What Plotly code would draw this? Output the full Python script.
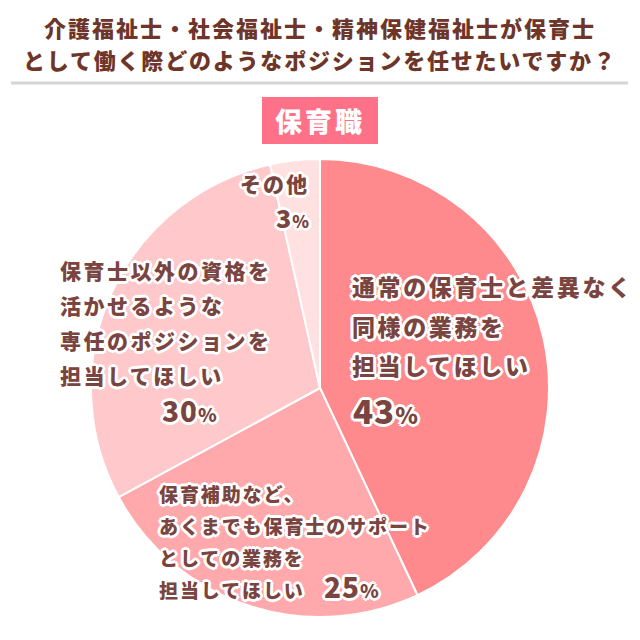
import plotly.graph_objects as go

W = H = 640

# --- data ---
title_lines = [
    "介護福祉士・社会福祉士・精神保健福祉士が保育士",
    "として働く際どのようなポジションを任せたいですか？",
]
badge_text = "保育職"

categories = [
    "通常の保育士と差異なく同様の業務を担当してほしい",
    "保育補助など、あくまでも保育士のサポートとしての業務を担当してほしい",
    "保育士以外の資格を活かせるような専任のポジションを担当してほしい",
    "その他",
]
# slice sizes as drawn in the picture (printed labels are rounded)
shares = [43.0, 24.1, 29.4, 3.5]
pct_labels = ["43", "25", "30", "3"]
label_lines = [
    ["通常の保育士と差異なく", "同様の業務を", "担当してほしい"],
    ["保育補助など、", "あくまでも保育士のサポート", "としての業務を", "担当してほしい"],
    ["保育士以外の資格を", "活かせるような", "専任のポジションを", "担当してほしい"],
    ["その他"],
]

# --- styles ---
slice_colors = ["#ff8a8e", "#ffa9ac", "#ffc8ca", "#ffe1e1"]
TITLE_COLOR = "#6e3529"
LABEL_COLOR = "#7a4540"
FONT = "Noto Sans CJK JP"
o = 3
OUTLINE = ", ".join(
    f"{dx}px {dy}px 0 #fff"
    for dx, dy in [(o, 0), (-o, 0), (0, o), (0, -o), (2, 2), (-2, 2), (2, -2), (-2, -2)]
)


def px(x):
    return x / W


def py(y):
    return 1 - y / H


def spaced(text, ls):
    return f"<span style='letter-spacing:{ls}px'>{text}</span>"


# pie geometry (pixels)
cx, cy, r = 320, 388, 229

fig = go.Figure()
fig.add_trace(go.Pie(
    labels=categories,
    values=shares,
    sort=False,
    direction="clockwise",
    rotation=0,
    textinfo="none",
    hoverinfo="label+percent",
    marker=dict(colors=slice_colors, line=dict(color="white", width=2)),
    domain=dict(x=[px(cx - r), px(cx + r)], y=[py(cy + r), py(cy - r)]),
    showlegend=False,
))

annotations = []
for i, line in enumerate(title_lines):
    annotations.append(dict(
        x=0.5, y=py([27, 59][i]), xref="paper", yref="paper",
        text=spaced(line, [2, 1.8][i]), showarrow=False, xanchor="center", yanchor="middle",
        font=dict(family=FONT, size=22, color=TITLE_COLOR, weight=900),
    ))

annotations.append(dict(
    x=0.5, y=py(120), xref="paper", yref="paper", text=spaced(badge_text, 3),
    showarrow=False, xanchor="center", yanchor="middle",
    font=dict(family=FONT, size=27, color="white", weight=900),
))

# label placement per slice: x, first line y, pitch, size, spacing, anchor, pct x, pct y, pct size
placement = [
    (350, 286, 39.5, 23, 2.6, "left", 351, 410, 33),
    (157, 493, 32, 19, 1.9, "left", 322, 586, 28),
    (58, 270, 35, 21, 2.5, "left", 160, 410, 28),
    (311, 183, 35, 21, 2, "right", 311, 217, 25),
]

for lines, pct, (lx, ly, pitch, size, ls, anchor, qx, qy, qsize) in zip(label_lines, pct_labels, placement):
    for j, line in enumerate(lines):
        annotations.append(dict(
            x=px(lx), y=py(ly + j * pitch), xref="paper", yref="paper",
            text=spaced(line, ls), showarrow=False, xanchor=anchor, yanchor="middle",
            font=dict(family=FONT, size=size, color=LABEL_COLOR, weight=900, shadow=OUTLINE),
        ))
    annotations.append(dict(
        x=px(qx), y=py(qy), xref="paper", yref="paper",
        text=f"<span style='letter-spacing:1px'>{pct}</span><span style='font-size:{int(qsize * 0.7)}px'>%</span>",
        showarrow=False, xanchor=anchor, yanchor="middle",
        font=dict(family=FONT, size=qsize, color=LABEL_COLOR, weight=900, shadow=OUTLINE),
    ))

shapes = [
    dict(type="line", xref="paper", yref="paper", x0=px(11), x1=px(628), y0=py(83), y1=py(83),
         line=dict(color="#d5d5d5", width=3)),
    dict(type="rect", xref="paper", yref="paper", x0=px(262), x1=px(378), y0=py(144), y1=py(97),
         fillcolor="#ff7189", line=dict(width=0), layer="below"),
]

fig.update_layout(
    width=W, height=H,
    margin=dict(l=0, r=0, t=0, b=0),
    paper_bgcolor="white", plot_bgcolor="white",
    annotations=annotations,
    shapes=shapes,
)

fig.write_html("out.html", config={"displayModeBar": False},
               post_script="document.body.style.margin='0';")
